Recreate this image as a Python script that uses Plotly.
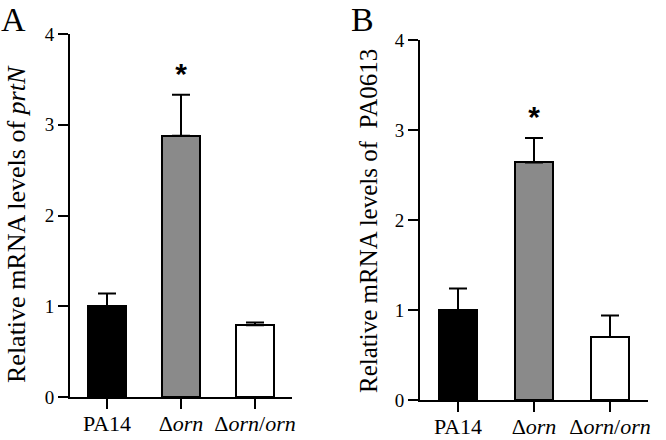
import plotly.graph_objects as go

categories = ["PA14", "Δorn", "Δorn/orn"]
tick_labels = ["PA14", "Δ<i>orn</i>", "Δ<i>orn</i>/<i>orn</i>"]
bar_colors = ["#000000", "#8a8a8a", "#ffffff"]

a_means = [1.00, 2.88, 0.79]
a_errors = [0.14, 0.45, 0.03]
a_star = [None, 3.53, None]

b_means = [1.00, 2.64, 0.70]
b_errors = [0.24, 0.27, 0.24]
b_star = [None, 3.12, None]

y_ticks = [0, 1, 2, 3, 4]

W, H = 666, 440
SERIF = "Liberation Serif"

fig = go.Figure()

def add_panel(means, errs, stars, xa, ya):
    fig.add_trace(go.Bar(
        x=[0, 1, 2], y=means, width=0.51,
        marker=dict(color=bar_colors, line=dict(color="black", width=2)),
        error_y=dict(type="data", array=errs, arrayminus=[0] * len(errs),
                     symmetric=False, color="black", thickness=2, width=9),
        xaxis=xa, yaxis=ya, showlegend=False,
    ))
    sx = [i for i, s in enumerate(stars) if s is not None]
    sy = [s for s in stars if s is not None]
    fig.add_trace(go.Scatter(
        x=sx, y=sy, mode="text", text=["<b>*</b>"] * len(sx),
        textfont=dict(family="Liberation Sans", size=30, color="black"),
        textposition="middle center",
        xaxis=xa, yaxis=ya, showlegend=False,
    ))

add_panel(a_means, a_errors, a_star, "x", "y")
add_panel(b_means, b_errors, b_star, "x2", "y2")

def px_x(p):
    return p / W

def px_y(p):
    return 1 - p / H

xcommon = dict(range=[-0.5, 2.5], showline=True, linecolor="black", linewidth=2,
               ticks="outside", ticklen=10, tickwidth=2, tickcolor="black",
               tickvals=[0, 1, 2], ticktext=tick_labels, showgrid=False, zeroline=False,
               automargin=False, ticklabelstandoff=-4,
               tickfont=dict(family=SERIF, size=22, color="black"), fixedrange=True)
ycommon = dict(range=[0, 4], showline=True, linecolor="black", linewidth=2,
               ticks="outside", ticklen=10, tickwidth=2, tickcolor="black",
               tickvals=y_ticks, showgrid=False, zeroline=False,
               automargin=False,
               tickfont=dict(family=SERIF, size=19, color="black"), fixedrange=True)

fig.update_layout(
    width=W, height=H,
    margin=dict(l=0, r=0, t=0, b=0),
    paper_bgcolor="white", plot_bgcolor="white",
    bargap=0,
    font=dict(family=SERIF),
    xaxis=dict(domain=[px_x(70), px_x(292)], anchor="y", **xcommon),
    yaxis=dict(domain=[px_y(397), px_y(34)], anchor="x", **ycommon),
    xaxis2=dict(domain=[px_x(420), px_x(648)], anchor="y2", **xcommon),
    yaxis2=dict(domain=[px_y(400), px_y(40)], anchor="x2", **ycommon),
)

annos = [
    dict(text="A", x=px_x(13), size=34),
    dict(text="B", x=px_x(362), size=34),
]
for a in annos:
    fig.add_annotation(text=a["text"], x=a["x"], y=1, xref="paper", yref="paper",
                       showarrow=False, xanchor="center", yanchor="top",
                       borderpad=0,
                       font=dict(family=SERIF, size=a["size"], color="black"))

fig.add_annotation(text="Relative mRNA levels of <i>prtN</i>", x=px_x(17), y=px_y(224),
                   xref="paper", yref="paper", showarrow=False, textangle=-90,
                   xanchor="center", yanchor="middle",
                   font=dict(family=SERIF, size=26, color="black"))
fig.add_annotation(text="Relative mRNA levels of &nbsp;PA0613", x=px_x(368), y=px_y(221),
                   xref="paper", yref="paper", showarrow=False, textangle=-90,
                   xanchor="center", yanchor="middle",
                   font=dict(family=SERIF, size=25, color="black"))

fig.write_html(
    "out.html",
    config={"displayModeBar": False},
    post_script="document.body.style.margin='0';document.body.style.padding='0';document.body.style.overflow='hidden';",
)
